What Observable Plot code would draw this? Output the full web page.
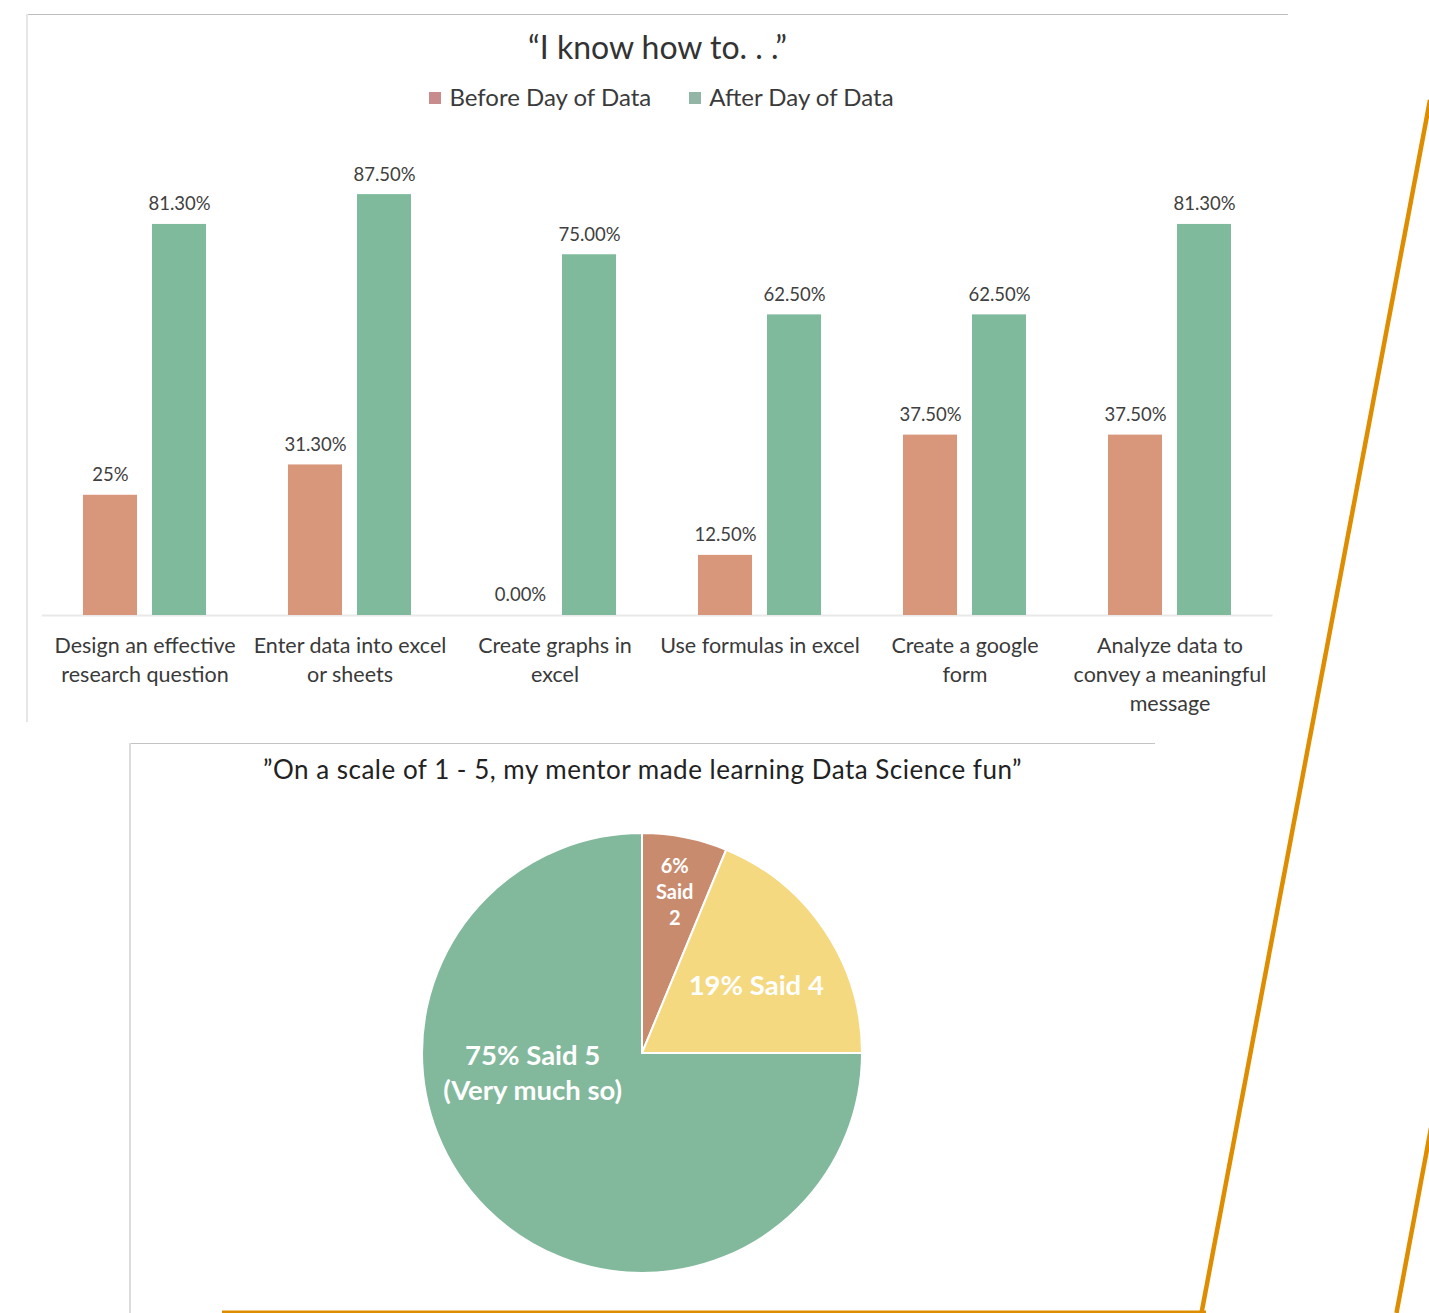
<!DOCTYPE html>
<html><head><meta charset="utf-8">
<script src="https://cdn.jsdelivr.net/npm/d3@7"></script>
<script src="https://cdn.jsdelivr.net/npm/@observablehq/plot@0.6"></script>
<style>
body{margin:0;background:#fff;}
#page{position:relative;width:1429px;height:1313px;overflow:hidden;font-family:Lato,"Open Sans",sans-serif;background:#fff;color:#333;}
.abs{position:absolute;}
.title1{left:27px;width:1261px;top:28px;text-align:center;font-size:32px;line-height:38px;color:#333;}
.legend{left:27px;width:1261px;top:82px;display:flex;justify-content:center;gap:38px;font-size:24px;line-height:30px;color:#3a3a3a;padding-left:8px;box-sizing:border-box;}
.legend span.sw{display:inline-block;width:12px;height:12px;margin-right:8px;vertical-align:middle;position:relative;top:-2px;}
.title2{left:130px;width:1025px;top:753px;text-align:center;font-size:26px;line-height:32px;color:#222;letter-spacing:0.5px;}
</style></head><body><div id="page"></div>
<script>
// ---------- data ----------
const categories = ["Design an effective research question", "Enter data into excel or sheets", "Create graphs in excel", "Use formulas in excel", "Create a google form", "Analyze data to convey a meaningful message"];
const categoryLines = ["Design an effective\nresearch question", "Enter data into excel\nor sheets", "Create graphs in\nexcel", "Use formulas in excel", "Create a google\nform", "Analyze data to\nconvey a meaningful\nmessage"];
const series = ["Before Day of Data", "After Day of Data"];
const beforeValues = [25, 31.3, 0, 12.5, 37.5, 37.5];
const afterValues = [81.3, 87.5, 75, 62.5, 62.5, 81.3];
const beforeLabels = ["25%", "31.30%", "0.00%", "12.50%", "37.50%", "37.50%"];
const afterLabels = ["81.30%", "87.50%", "75.00%", "62.50%", "62.50%", "81.30%"];
const barTitle = "\u201CI know how to. . .\u201D";

const pieCategories = ["Said 2", "Said 4", "Said 5"];
const pieValues = [6.25, 18.75, 75];
const pieLabels = ["6%\nSaid\n2", "19% Said 4", "75% Said 5\n(Very much so)"];
const pieTitle = "\u201DOn a scale of 1 - 5, my mentor made learning Data Science fun\u201D";

// ---------- styles ----------
const seriesColors = ["#d8967b", "#7fba9c"];
const legendColors = ["#c98c8c", "#93b5a5"];
const pieColors = ["#c98b6e", "#f4d980", "#82b99c"];
const pieLabelStyle = [
  {r: 0.75, fontSize: 20, lineHeight: 1.3, dx: 0, dy: -1},
  {r: 0.6, fontSize: 27.5, lineHeight: 1.3, dx: 4, dy: 3},
  {r: 0.5, fontSize: 27.5, lineHeight: 1.28, dx: -32, dy: -60}
];

const page = document.getElementById("page");

// panel frames
const frame = (css) => { const d = document.createElement("div"); d.className = "abs"; d.style.cssText = css; page.appendChild(d); };
frame("left:27px;top:14px;width:1261px;height:0;border-top:1.5px solid #bdbdbd;");
frame("left:26px;top:14px;width:0;height:708px;border-left:2px solid #e6e6e6;");
frame("left:130px;top:743px;width:1025px;height:0;border-top:1.5px solid #c4c4c4;");
frame("left:129px;top:743px;width:0;height:570px;border-left:2px solid #dcdcdc;");

// titles & legend
const t1 = document.createElement("div"); t1.className = "abs title1"; t1.textContent = barTitle; page.appendChild(t1);
const lg = document.createElement("div"); lg.className = "abs legend";
series.forEach((s, i) => {
  const it = document.createElement("div");
  it.innerHTML = `<span class="sw" style="background:${legendColors[i]}"></span>${s}`;
  lg.appendChild(it);
});
page.appendChild(lg);
const t2 = document.createElement("div"); t2.className = "abs title2"; t2.textContent = pieTitle; page.appendChild(t2);

// ---------- bar chart ----------
const rows = categories.flatMap((c, i) => [
  {cat: c, series: series[0], value: beforeValues[i], label: beforeLabels[i]},
  {cat: c, series: series[1], value: afterValues[i], label: afterLabels[i]}
]);
const before = rows.filter(d => d.series === series[0]);
const after = rows.filter(d => d.series === series[1]);

const bar = Plot.plot({
  width: 1300, height: 600,
  marginLeft: 42, marginRight: 27.5, marginTop: 4, marginBottom: 115,
  x: {domain: categories, padding: 0, axis: null},
  y: {domain: [0, 100], axis: null},
  color: {domain: series, range: seriesColors},
  style: {fontFamily: "Lato, 'Open Sans', sans-serif", background: "transparent", overflow: "visible"},
  marks: [
    Plot.ruleY([0], {stroke: "#e9e9e9", strokeWidth: 2}),
    Plot.barY(before, {x: "cat", y: "value", fill: "series", insetLeft: 41, insetRight: 110}),
    Plot.barY(after, {x: "cat", y: "value", fill: "series", insetLeft: 110, insetRight: 41}),
    Plot.text(before, {x: "cat", y: "value", text: "label", dx: -34.5, dy: -20, fontSize: 18.5, fill: "#404040"}),
    Plot.text(after, {x: "cat", y: "value", text: "label", dx: 34.5, dy: -20, fontSize: 18.5, fill: "#404040"}),
    Plot.text(categories, {x: d => d, text: (d, i) => categoryLines[i], frameAnchor: "bottom", lineAnchor: "top", dy: 17, fontSize: 21.5, lineHeight: 1.35, fill: "#3a3a3a"})
  ]
});
bar.classList.add("abs");
bar.style.left = "0px"; bar.style.top = "130px";
page.appendChild(bar);

// ---------- pie chart ----------
const pieData = pieValues.map((v, i) => ({cat: pieCategories[i], value: v, label: pieLabels[i]}));
const arcs = d3.pie().sort(null).value(d => d.value)(pieData);
const labelPts = arcs.map((a, i) => {
  const mid = (a.startAngle + a.endAngle) / 2;
  const r = pieLabelStyle[i].r;
  return {x: r * Math.sin(mid), y: r * Math.cos(mid), label: a.data.label};
});

function wedges(index, scales) {
  const cx = scales.x(0), cy = scales.y(0), r = scales.x(1) - scales.x(0);
  const g = d3.create("svg:g").attr("transform", `translate(${cx},${cy})`);
  g.selectAll("path").data(arcs).join("path")
    .attr("d", d3.arc().innerRadius(0).outerRadius(r))
    .attr("fill", (d, i) => pieColors[i])
    .attr("stroke", "#fff").attr("stroke-width", 2);
  return g.node();
}

const pie = Plot.plot({
  width: 484, height: 484, margin: 0,
  x: {domain: [-1.1, 1.1], axis: null},
  y: {domain: [-1.1, 1.1], axis: null},
  style: {fontFamily: "Lato, 'Open Sans', sans-serif", background: "transparent", overflow: "visible"},
  marks: [
    wedges,
    ...labelPts.map((p, i) => Plot.text([p], {
      x: "x", y: "y", text: "label", fill: "#fff", fontWeight: "bold",
      fontSize: pieLabelStyle[i].fontSize, lineHeight: pieLabelStyle[i].lineHeight,
      dx: pieLabelStyle[i].dx, dy: pieLabelStyle[i].dy
    }))
  ]
});
pie.classList.add("abs");
pie.style.left = "400px"; pie.style.top = "811px";
page.appendChild(pie);

// ---------- decoration ----------
const ns = "http://www.w3.org/2000/svg";
const deco = document.createElementNS(ns, "svg");
deco.setAttribute("width", 1429); deco.setAttribute("height", 1313);
deco.setAttribute("class", "abs"); deco.style.left = "0px"; deco.style.top = "0px"; deco.style.pointerEvents = "none";
[[1430, 100, 1201.5, 1313, 4.5], [1431, 1128, 1396.5, 1313, 4.5], [222, 1312, 1206, 1312, 3]].forEach(([x1, y1, x2, y2, w]) => {
  const l = document.createElementNS(ns, "line");
  l.setAttribute("x1", x1); l.setAttribute("y1", y1); l.setAttribute("x2", x2); l.setAttribute("y2", y2);
  l.setAttribute("stroke", "#df8d00"); l.setAttribute("stroke-width", w);
  deco.appendChild(l);
});
page.appendChild(deco);
</script>
</body></html>
